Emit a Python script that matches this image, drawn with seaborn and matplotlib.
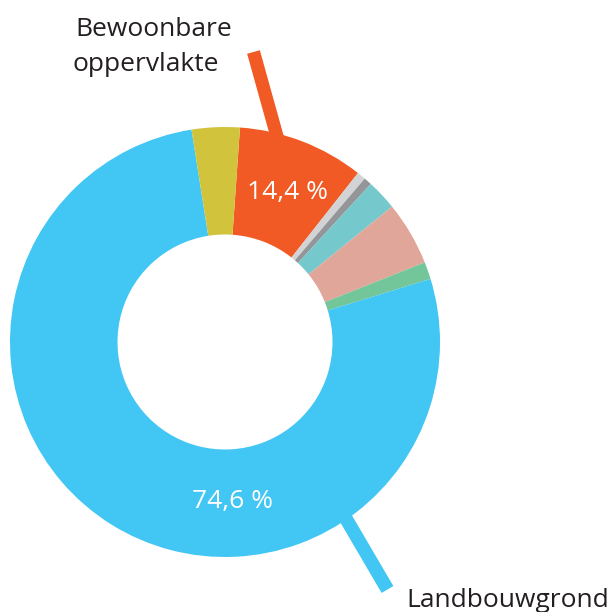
import seaborn as sns
import matplotlib.pyplot as plt

# shares, clockwise from just right of 12 o'clock
categories = ['Bewoonbare oppervlakte', 'Categorie 2', 'Categorie 3', 'Categorie 4',
              'Categorie 5', 'Categorie 6', 'Landbouwgrond', 'Categorie 8']
shares = [9.5, 0.65, 0.6, 2.3, 4.8, 1.3, 77.25, 3.6]
pct_labels = {'Bewoonbare oppervlakte': '14,4 %', 'Landbouwgrond': '74,6 %'}
colors = ['#F15A24', '#D1D3D4', '#939598', '#75C9CC',
          '#E0A699', '#72C69A', '#42C6F3', '#D1C43C']

sns.set_theme(style='white')
plt.rcParams['font.family'] = ['Open Sans', 'DejaVu Sans']

W = 612
fig = plt.figure(figsize=(6.12, 6.12), dpi=100)
# circle spans x 10..440, y 127..557 (pixels from top-left)
ax = fig.add_axes([10 / W, (W - 557) / W, 430 / W, 430 / W])

def px(x, y):
    # pixel position -> data coords of the pie axes
    return (x - 225) / 215, (342 - y) / 215

# callout bars (behind the ring)
x0, y0 = px(253.5, 52)
x1, y1 = px(278, 140)
ax.plot([x0, x1], [y0, y1], color=colors[0], lw=9.5, solid_capstyle='butt',
        clip_on=False, zorder=0)
x0, y0 = px(338, 505)
x1, y1 = px(387.5, 589.5)
ax.plot([x0, x1], [y0, y1], color=colors[6], lw=9.8, solid_capstyle='butt',
        clip_on=False, zorder=0)

ax.pie(shares, colors=colors, startangle=86, counterclock=False, radius=1,
       wedgeprops=dict(width=0.5, edgecolor='none', linewidth=0))
ax.set_xlim(-1, 1)
ax.set_ylim(-1, 1)
ax.set_aspect('equal')
ax.axis('off')

fs = 19
txt = '#231F20'
x, y = px(75, 36)
ax.text(x, y, 'Bewoonbare', fontsize=fs, color=txt, ha='left', va='baseline', clip_on=False)
x, y = px(73, 71)
ax.text(x, y, 'oppervlakte', fontsize=fs, color=txt, ha='left', va='baseline', clip_on=False)
x, y = px(406, 607)
ax.text(x, y, 'Landbouwgrond', fontsize=fs, color=txt, ha='left', va='baseline', clip_on=False)

x, y = px(287.5, 199)
ax.text(x, y, pct_labels['Bewoonbare oppervlakte'], fontsize=fs, color='white',
        ha='center', va='baseline')
x, y = px(232, 508)
ax.text(x, y, pct_labels['Landbouwgrond'], fontsize=fs, color='white',
        ha='center', va='baseline')

fig.savefig('out.png', dpi=100)
